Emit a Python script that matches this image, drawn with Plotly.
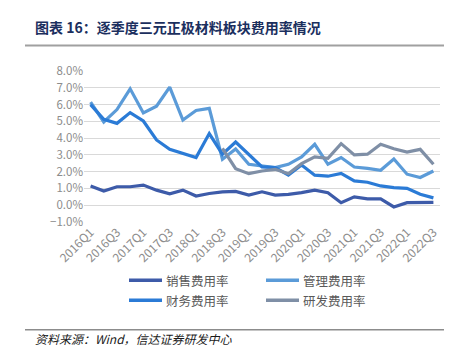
import plotly.graph_objects as go

quarters = [f"{y}Q{q}" for y in range(2016, 2023) for q in range(1, 5)][:27]
tick_labels = quarters[::2]

sales = [1.15, 0.85, 1.1, 1.1, 1.2, 0.9, 0.68, 0.9, 0.55, 0.7, 0.8, 0.82,
         0.6, 0.8, 0.6, 0.65, 0.75, 0.9, 0.75, 0.15, 0.5, 0.38, 0.38, -0.1,
         0.15, 0.15, 0.17]
admin = [6.15, 4.96, 5.7, 6.94, 5.5, 5.9, 7.04, 5.08, 5.65, 5.77, 2.74, 3.35,
         2.44, 2.32, 2.24, 2.44, 2.88, 3.63, 2.44, 2.84, 2.28, 2.2, 2.08, 2.76,
         1.85, 1.65, 2.04]
finance = [6.0, 5.12, 4.88, 5.52, 5.02, 3.89, 3.33, 3.1, 2.84, 4.27, 3.04, 3.77,
           3.04, 2.28, 2.24, 1.8, 2.4, 1.79, 1.73, 1.9, 1.45, 1.37, 1.15, 1.05,
           1.01, 0.65, 0.44]
rnd = [None] * 10 + [3.39, 2.18, 1.88, 2.04, 2.14, 1.88, 2.48, 2.88, 2.8, 3.67,
                     3.0, 3.04, 3.63, 3.37, 3.17, 3.33, 2.44]

names = ["销售费用率", "管理费用率", "财务费用率", "研发费用率"]
colors = ["#3d5ba9", "#5b9bd8", "#2b7bd6", "#7f8fa6"]
series = [sales, admin, finance, rnd]

FONT = "Noto Sans CJK SC"
fig = go.Figure()
for n, c, s in zip(names, colors, series):
    fig.add_trace(go.Scatter(x=quarters, y=s, name=n, mode="lines",
                             line=dict(color=c, width=3.2), showlegend=False))

L, R, T, B = 76, 20, 63, 140.5
W, H = 452, 355
ph = H - T - B
pw = W - L - R


def px(x):
    return (x - L) / pw


def py(y):
    return (H - B - y) / ph


fig.update_layout(
    width=W, height=H,
    margin=dict(l=L, r=R, t=T, b=B, autoexpand=False),
    paper_bgcolor="white", plot_bgcolor="white",
    font=dict(family=FONT, color="#7f7f7f", size=11),
    showlegend=False,
    xaxis=dict(type="category", tickmode="array", tickvals=tick_labels,
               ticktext=tick_labels, tickangle=-45, showgrid=False,
               showline=False, ticks="", range=[-0.5, 26.5], automargin=False,
               tickfont=dict(size=12, color="#8c8c8c")),
    yaxis=dict(range=[-1, 8], dtick=1, tickformat=".1f", ticksuffix="%",
               showgrid=True, gridcolor="#d9d9d9", gridwidth=1, zeroline=False,
               showline=False, ticks="", automargin=False,
               tickfont=dict(size=11.5, color="#8c8c8c")),
)

# Legend (manual, 2 x 2 grid)
leg_pos = [(121, 273), (258, 273), (121, 293), (258, 293)]
for (lx, ly), n, c in zip(leg_pos, names, colors):
    fig.add_shape(type="line", xref="paper", yref="paper",
                  x0=px(lx), x1=px(lx + 33), y0=py(ly), y1=py(ly),
                  line=dict(color=c, width=3.5))
    fig.add_annotation(text=n, xref="paper", yref="paper",
                       x=px(lx + 35), y=py(ly), xanchor="left", yanchor="middle",
                       showarrow=False,
                       font=dict(family=FONT, size=12.5, color="#595959"))

fig.add_annotation(text="<b>图表 16：逐季度三元正极材料板块费用率情况</b>",
                   xref="paper", yref="paper", x=px(25), y=py(19),
                   xanchor="left", yanchor="middle", showarrow=False,
                   font=dict(family=FONT, size=14, color="#1b2f5e"))
fig.add_shape(type="line", xref="paper", yref="paper", x0=px(17), x1=px(440),
              y0=py(37.5), y1=py(37.5), line=dict(color="#a0a0a0", width=2))
fig.add_shape(type="line", xref="paper", yref="paper", x0=px(17), x1=px(440),
              y0=py(322.5), y1=py(322.5), line=dict(color="#8c8c8c", width=1.5))
fig.add_annotation(text="<i>资料来源：Wind，信达证券研发中心</i>",
                   xref="paper", yref="paper", x=px(25), y=py(331),
                   xanchor="left", yanchor="middle", showarrow=False,
                   font=dict(family=FONT, size=12, color="#1a1a1a"))

fig.write_html("out.html")
